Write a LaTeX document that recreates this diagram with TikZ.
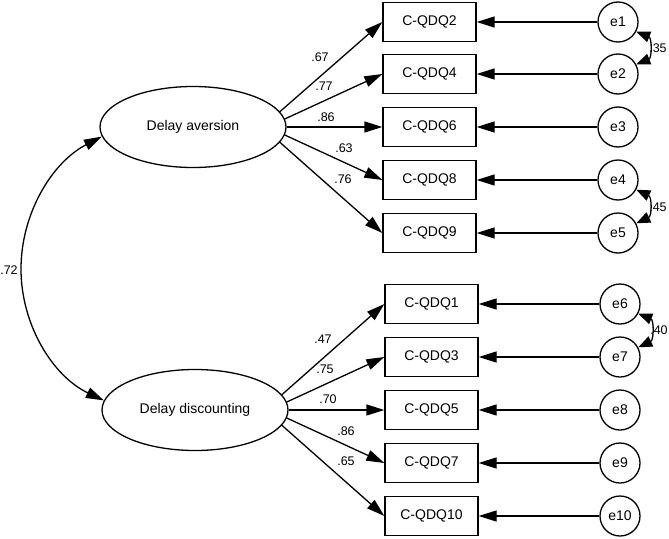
\documentclass[tikz,border=0pt]{standalone}
\usepackage{fontspec}
\setmainfont{Liberation Sans}
\usetikzlibrary{arrows.meta,shapes.geometric}
\begin{document}
\begin{tikzpicture}[x=1pt,y=-1pt,
  every node/.style={font=\fontsize{14}{16}\selectfont},
  latent/.style={draw,ellipse,line width=1.3pt,minimum width=186pt,minimum height=81pt,inner sep=0pt},
  item/.style={draw,rectangle,line width=1.3pt,minimum width=93pt,minimum height=39pt,inner sep=0pt},
  err/.style={draw,circle,line width=1.3pt,minimum size=40pt,inner sep=0pt},
  tip/.tip={Triangle[length=18pt,width=11pt]},
  smalltip/.tip={Triangle[length=14pt,width=11pt]},
  load/.style={-tip,line width=1.3pt},
  cov/.style={tip-tip,line width=1.3pt},
  ecov/.style={smalltip-smalltip,line width=1.3pt},
  coef/.style={font=\fontsize{12.5}{14}\selectfont,inner sep=0pt}
]
\useasboundingbox (0,0) rectangle (669,538);

% latent factors
\node[latent] (da) at (193,127) {Delay aversion};
\node[latent] (dd) at (195,410) {Delay discounting};

% observed items with their error terms
\foreach \q/\e/\y in {2/1/22, 4/2/74, 6/3/127, 8/4/180, 9/5/233} {
  \node[item] (q\q) at (429.5,\y) {C-QDQ\q};
  \node[err] (e\e) at (618,\y) {e\e};
  \draw[load] (e\e) -- (q\q);
}
\foreach \q/\e/\y in {1/6/304, 3/7/357, 5/8/410, 7/9/463, 10/10/516} {
  \node[item] (q\q) at (431.5,\y) {C-QDQ\q};
  \node[err] (e\e) at (620,\y) {e\e};
  \draw[load] (e\e) -- (q\q);
}

% factor loadings
\draw[load] (da.10) -- (q2.west);
\draw[load] (da.5) -- (q4.west);
\draw[load] (da.0) -- (q6.west);
\draw[load] (da.-5) -- (q8.west);
\draw[load] (da.-10) -- (q9.west);
\draw[load] (dd.10) -- (q1.west);
\draw[load] (dd.5) -- (q3.west);
\draw[load] (dd.0) -- (q5.west);
\draw[load] (dd.-5) -- (q7.west);
\draw[load] (dd.-10) -- (q10.west);

\node[coef] (l2) at (320,57) {.67};
\node[coef] (l4) at (324,86) {.77};
\node[coef] (l6) at (326,117) {.86};
\node[coef] (l8) at (344,148) {.63};
\node[coef] (l9) at (343,179) {.76};
\node[coef] (l1) at (323,339) {.47};
\node[coef] (l3) at (325,369) {.75};
\node[coef] (l5) at (328,399) {.70};
\node[coef] (l7) at (346,431) {.86};
\node[coef] (l10) at (346,461) {.65};

% factor correlation
\draw[cov] (da.186) .. controls (52.2,162.2) and (21,213.2) .. (21,269)
  .. controls (21,324.8) and (52.8,376.3) .. (dd.174);
\node[coef] (r) at (9,270) {.72};

% error covariances
\draw[ecov] (e1.-28) .. controls (652,38) and (652,58) .. (e2.28);
\draw[ecov] (e4.-28) .. controls (652,197) and (652,216) .. (e5.28);
\draw[ecov] (e6.-28) .. controls (654,320) and (654,340) .. (e7.28);
\node[coef] (c12) at (658,48) {.35};
\node[coef] (c45) at (658,207) {.45};
\node[coef] (c67) at (659,330) {.40};
\end{tikzpicture}
\end{document}
